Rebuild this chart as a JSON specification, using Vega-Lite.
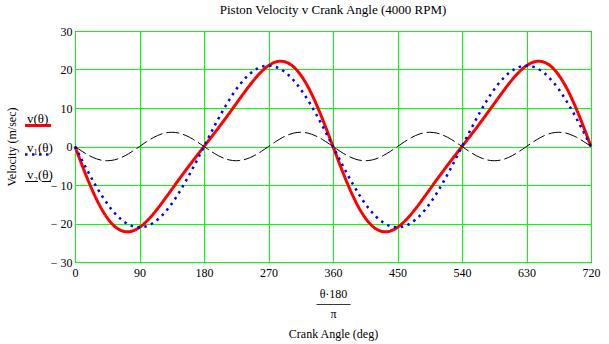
{
  "$schema": "https://vega.github.io/schema/vega-lite/v6.json",
  "width": 516,
  "height": 231,
  "autosize": {"type": "none"},
  "padding": {"left": 75, "top": 31, "right": 18, "bottom": 82},
  "background": "white",
  "title": {"text": "Piston Velocity v Crank Angle (4000 RPM)", "font": "Liberation Serif", "fontSize": 13, "fontWeight": "normal", "color": "black", "offset": 8},
  "data": {"values": [
    {"t":0,"v":0,"v1":0,"v2":0},
    {"t":5,"v":-2.47,"v1":-1.83,"v2":-0.64},
    {"t":10,"v":-4.92,"v1":-3.65,"v2":-1.27},
    {"t":15,"v":-7.29,"v1":-5.44,"v2":-1.85},
    {"t":20,"v":-9.56,"v1":-7.18,"v2":-2.38},
    {"t":25,"v":-11.71,"v1":-8.88,"v2":-2.83},
    {"t":30,"v":-13.7,"v1":-10.5,"v2":-3.2},
    {"t":35,"v":-15.53,"v1":-12.05,"v2":-3.48},
    {"t":40,"v":-17.14,"v1":-13.5,"v2":-3.64},
    {"t":45,"v":-18.55,"v1":-14.85,"v2":-3.7},
    {"t":50,"v":-19.73,"v1":-16.09,"v2":-3.64},
    {"t":55,"v":-20.68,"v1":-17.2,"v2":-3.48},
    {"t":60,"v":-21.39,"v1":-18.19,"v2":-3.2},
    {"t":65,"v":-21.86,"v1":-19.03,"v2":-2.83},
    {"t":70,"v":-22.11,"v1":-19.73,"v2":-2.38},
    {"t":75,"v":-22.13,"v1":-20.28,"v2":-1.85},
    {"t":80,"v":-21.95,"v1":-20.68,"v2":-1.27},
    {"t":85,"v":-21.56,"v1":-20.92,"v2":-0.64},
    {"t":90,"v":-21,"v1":-21,"v2":0},
    {"t":95,"v":-20.28,"v1":-20.92,"v2":0.64},
    {"t":100,"v":-19.41,"v1":-20.68,"v2":1.27},
    {"t":105,"v":-18.43,"v1":-20.28,"v2":1.85},
    {"t":110,"v":-17.35,"v1":-19.73,"v2":2.38},
    {"t":115,"v":-16.2,"v1":-19.03,"v2":2.83},
    {"t":120,"v":-14.99,"v1":-18.19,"v2":3.2},
    {"t":125,"v":-13.72,"v1":-17.2,"v2":3.48},
    {"t":130,"v":-12.45,"v1":-16.09,"v2":3.64},
    {"t":135,"v":-11.15,"v1":-14.85,"v2":3.7},
    {"t":140,"v":-9.86,"v1":-13.5,"v2":3.64},
    {"t":145,"v":-8.57,"v1":-12.05,"v2":3.48},
    {"t":150,"v":-7.3,"v1":-10.5,"v2":3.2},
    {"t":155,"v":-6.05,"v1":-8.88,"v2":2.83},
    {"t":160,"v":-4.8,"v1":-7.18,"v2":2.38},
    {"t":165,"v":-3.59,"v1":-5.44,"v2":1.85},
    {"t":170,"v":-2.38,"v1":-3.65,"v2":1.27},
    {"t":175,"v":-1.19,"v1":-1.83,"v2":0.64},
    {"t":180,"v":0,"v1":0,"v2":0},
    {"t":185,"v":1.19,"v1":1.83,"v2":-0.64},
    {"t":190,"v":2.38,"v1":3.65,"v2":-1.27},
    {"t":195,"v":3.59,"v1":5.44,"v2":-1.85},
    {"t":200,"v":4.8,"v1":7.18,"v2":-2.38},
    {"t":205,"v":6.05,"v1":8.88,"v2":-2.83},
    {"t":210,"v":7.3,"v1":10.5,"v2":-3.2},
    {"t":215,"v":8.57,"v1":12.05,"v2":-3.48},
    {"t":220,"v":9.86,"v1":13.5,"v2":-3.64},
    {"t":225,"v":11.15,"v1":14.85,"v2":-3.7},
    {"t":230,"v":12.45,"v1":16.09,"v2":-3.64},
    {"t":235,"v":13.72,"v1":17.2,"v2":-3.48},
    {"t":240,"v":14.99,"v1":18.19,"v2":-3.2},
    {"t":245,"v":16.2,"v1":19.03,"v2":-2.83},
    {"t":250,"v":17.35,"v1":19.73,"v2":-2.38},
    {"t":255,"v":18.43,"v1":20.28,"v2":-1.85},
    {"t":260,"v":19.41,"v1":20.68,"v2":-1.27},
    {"t":265,"v":20.28,"v1":20.92,"v2":-0.64},
    {"t":270,"v":21,"v1":21,"v2":0},
    {"t":275,"v":21.56,"v1":20.92,"v2":0.64},
    {"t":280,"v":21.95,"v1":20.68,"v2":1.27},
    {"t":285,"v":22.13,"v1":20.28,"v2":1.85},
    {"t":290,"v":22.11,"v1":19.73,"v2":2.38},
    {"t":295,"v":21.86,"v1":19.03,"v2":2.83},
    {"t":300,"v":21.39,"v1":18.19,"v2":3.2},
    {"t":305,"v":20.68,"v1":17.2,"v2":3.48},
    {"t":310,"v":19.73,"v1":16.09,"v2":3.64},
    {"t":315,"v":18.55,"v1":14.85,"v2":3.7},
    {"t":320,"v":17.14,"v1":13.5,"v2":3.64},
    {"t":325,"v":15.53,"v1":12.05,"v2":3.48},
    {"t":330,"v":13.7,"v1":10.5,"v2":3.2},
    {"t":335,"v":11.71,"v1":8.88,"v2":2.83},
    {"t":340,"v":9.56,"v1":7.18,"v2":2.38},
    {"t":345,"v":7.29,"v1":5.44,"v2":1.85},
    {"t":350,"v":4.92,"v1":3.65,"v2":1.27},
    {"t":355,"v":2.47,"v1":1.83,"v2":0.64},
    {"t":360,"v":0,"v1":0,"v2":0},
    {"t":365,"v":-2.47,"v1":-1.83,"v2":-0.64},
    {"t":370,"v":-4.92,"v1":-3.65,"v2":-1.27},
    {"t":375,"v":-7.29,"v1":-5.44,"v2":-1.85},
    {"t":380,"v":-9.56,"v1":-7.18,"v2":-2.38},
    {"t":385,"v":-11.71,"v1":-8.88,"v2":-2.83},
    {"t":390,"v":-13.7,"v1":-10.5,"v2":-3.2},
    {"t":395,"v":-15.53,"v1":-12.05,"v2":-3.48},
    {"t":400,"v":-17.14,"v1":-13.5,"v2":-3.64},
    {"t":405,"v":-18.55,"v1":-14.85,"v2":-3.7},
    {"t":410,"v":-19.73,"v1":-16.09,"v2":-3.64},
    {"t":415,"v":-20.68,"v1":-17.2,"v2":-3.48},
    {"t":420,"v":-21.39,"v1":-18.19,"v2":-3.2},
    {"t":425,"v":-21.86,"v1":-19.03,"v2":-2.83},
    {"t":430,"v":-22.11,"v1":-19.73,"v2":-2.38},
    {"t":435,"v":-22.13,"v1":-20.28,"v2":-1.85},
    {"t":440,"v":-21.95,"v1":-20.68,"v2":-1.27},
    {"t":445,"v":-21.56,"v1":-20.92,"v2":-0.64},
    {"t":450,"v":-21,"v1":-21,"v2":0},
    {"t":455,"v":-20.28,"v1":-20.92,"v2":0.64},
    {"t":460,"v":-19.41,"v1":-20.68,"v2":1.27},
    {"t":465,"v":-18.43,"v1":-20.28,"v2":1.85},
    {"t":470,"v":-17.35,"v1":-19.73,"v2":2.38},
    {"t":475,"v":-16.2,"v1":-19.03,"v2":2.83},
    {"t":480,"v":-14.99,"v1":-18.19,"v2":3.2},
    {"t":485,"v":-13.72,"v1":-17.2,"v2":3.48},
    {"t":490,"v":-12.45,"v1":-16.09,"v2":3.64},
    {"t":495,"v":-11.15,"v1":-14.85,"v2":3.7},
    {"t":500,"v":-9.86,"v1":-13.5,"v2":3.64},
    {"t":505,"v":-8.57,"v1":-12.05,"v2":3.48},
    {"t":510,"v":-7.3,"v1":-10.5,"v2":3.2},
    {"t":515,"v":-6.05,"v1":-8.88,"v2":2.83},
    {"t":520,"v":-4.8,"v1":-7.18,"v2":2.38},
    {"t":525,"v":-3.59,"v1":-5.44,"v2":1.85},
    {"t":530,"v":-2.38,"v1":-3.65,"v2":1.27},
    {"t":535,"v":-1.19,"v1":-1.83,"v2":0.64},
    {"t":540,"v":0,"v1":0,"v2":0},
    {"t":545,"v":1.19,"v1":1.83,"v2":-0.64},
    {"t":550,"v":2.38,"v1":3.65,"v2":-1.27},
    {"t":555,"v":3.59,"v1":5.44,"v2":-1.85},
    {"t":560,"v":4.8,"v1":7.18,"v2":-2.38},
    {"t":565,"v":6.05,"v1":8.88,"v2":-2.83},
    {"t":570,"v":7.3,"v1":10.5,"v2":-3.2},
    {"t":575,"v":8.57,"v1":12.05,"v2":-3.48},
    {"t":580,"v":9.86,"v1":13.5,"v2":-3.64},
    {"t":585,"v":11.15,"v1":14.85,"v2":-3.7},
    {"t":590,"v":12.45,"v1":16.09,"v2":-3.64},
    {"t":595,"v":13.72,"v1":17.2,"v2":-3.48},
    {"t":600,"v":14.99,"v1":18.19,"v2":-3.2},
    {"t":605,"v":16.2,"v1":19.03,"v2":-2.83},
    {"t":610,"v":17.35,"v1":19.73,"v2":-2.38},
    {"t":615,"v":18.43,"v1":20.28,"v2":-1.85},
    {"t":620,"v":19.41,"v1":20.68,"v2":-1.27},
    {"t":625,"v":20.28,"v1":20.92,"v2":-0.64},
    {"t":630,"v":21,"v1":21,"v2":0},
    {"t":635,"v":21.56,"v1":20.92,"v2":0.64},
    {"t":640,"v":21.95,"v1":20.68,"v2":1.27},
    {"t":645,"v":22.13,"v1":20.28,"v2":1.85},
    {"t":650,"v":22.11,"v1":19.73,"v2":2.38},
    {"t":655,"v":21.86,"v1":19.03,"v2":2.83},
    {"t":660,"v":21.39,"v1":18.19,"v2":3.2},
    {"t":665,"v":20.68,"v1":17.2,"v2":3.48},
    {"t":670,"v":19.73,"v1":16.09,"v2":3.64},
    {"t":675,"v":18.55,"v1":14.85,"v2":3.7},
    {"t":680,"v":17.14,"v1":13.5,"v2":3.64},
    {"t":685,"v":15.53,"v1":12.05,"v2":3.48},
    {"t":690,"v":13.7,"v1":10.5,"v2":3.2},
    {"t":695,"v":11.71,"v1":8.88,"v2":2.83},
    {"t":700,"v":9.56,"v1":7.18,"v2":2.38},
    {"t":705,"v":7.29,"v1":5.44,"v2":1.85},
    {"t":710,"v":4.92,"v1":3.65,"v2":1.27},
    {"t":715,"v":2.47,"v1":1.83,"v2":0.64},
    {"t":720,"v":0,"v1":0,"v2":0}
  ]},
  "transform": [{"fold": ["v", "v1", "v2"], "as": ["series", "value"]}],
  "mark": {"type": "line", "interpolate": "monotone", "strokeCap": "butt"},
  "encoding": {
    "x": {
      "field": "t", "type": "quantitative",
      "scale": {"domain": [0, 720], "nice": false, "zero": false},
      "axis": {
        "values": [0, 90, 180, 270, 360, 450, 540, 630, 720],
        "title": ["θ·180", "────", "π", "\u200b", "Crank Angle (deg)"],
        "titleLineHeight": 10,
        "titleBaseline": "top",
        "titleAlign": "center",
        "titleX": 258,
        "titleY": 26,
        "labelPadding": 5
      }
    },
    "y": {
      "field": "value", "type": "quantitative",
      "scale": {"domain": [-30, 30], "nice": false},
      "axis": {
        "values": [-30, -20, -10, 0, 10, 20, 30],
        "title": "Velocity (m/sec)",
        "titleX": -64,
        "titleY": 115.5,
        "titleAngle": -90,
        "titleAlign": "center",
        "titleBaseline": "middle",
        "labelPadding": 3,
        "labelExpr": "datum.value < 0 ? '− ' + abs(datum.value) : datum.label"
      }
    },
    "color": {
      "field": "series", "type": "nominal",
      "scale": {"domain": ["v", "v1", "v2"], "range": ["#ff0000", "#0000ff", "#000000"]},
      "legend": {"title": null, "orient": "none", "legendX": -51.5, "legendY": 80, "symbolType": "stroke", "symbolSize": 676, "labelOffset": -25.5, "labelBaseline": "bottom", "rowPadding": 8, "labelExpr": "datum.label == 'v' ? 'v(θ)' : datum.label == 'v1' ? 'v₁(θ)' : 'v₂(θ)'"}
    },
    "strokeDash": {
      "field": "series", "type": "nominal",
      "scale": {"domain": ["v", "v1", "v2"], "range": [[1, 0], [2.5, 4.5], [13, 4]]},
      "legend": {"title": null, "orient": "none", "legendX": -51.5, "legendY": 80, "symbolType": "stroke", "symbolSize": 676, "labelOffset": -25.5, "labelBaseline": "bottom", "rowPadding": 8, "labelExpr": "datum.label == 'v' ? 'v(θ)' : datum.label == 'v1' ? 'v₁(θ)' : 'v₂(θ)'"}
    },
    "strokeWidth": {
      "field": "series", "type": "nominal",
      "scale": {"type": "ordinal", "domain": ["v", "v1", "v2"], "range": [3, 2.5, 1]},
      "legend": {"title": null, "orient": "none", "legendX": -51.5, "legendY": 80, "symbolType": "stroke", "symbolSize": 676, "labelOffset": -25.5, "labelBaseline": "bottom", "rowPadding": 8, "labelExpr": "datum.label == 'v' ? 'v(θ)' : datum.label == 'v1' ? 'v₁(θ)' : 'v₂(θ)'"}
    }
  },
  "config": {
    "view": {"stroke": "black", "strokeWidth": 1},
    "axis": {
      "labelFont": "Liberation Serif", "labelFontSize": 12, "labelColor": "black",
      "titleFont": "Liberation Serif", "titleFontSize": 12, "titleFontWeight": "normal", "titleColor": "black",
      "grid": true, "gridColor": "#00ff00", "gridOpacity": 1, "gridWidth": 1,
      "domain": false, "ticks": false, "labelOverlap": false, "labelBound": false, "labelFlush": false
    },
    "legend": {"labelFont": "Liberation Serif", "labelFontSize": 13, "labelColor": "black"}
  }
}
